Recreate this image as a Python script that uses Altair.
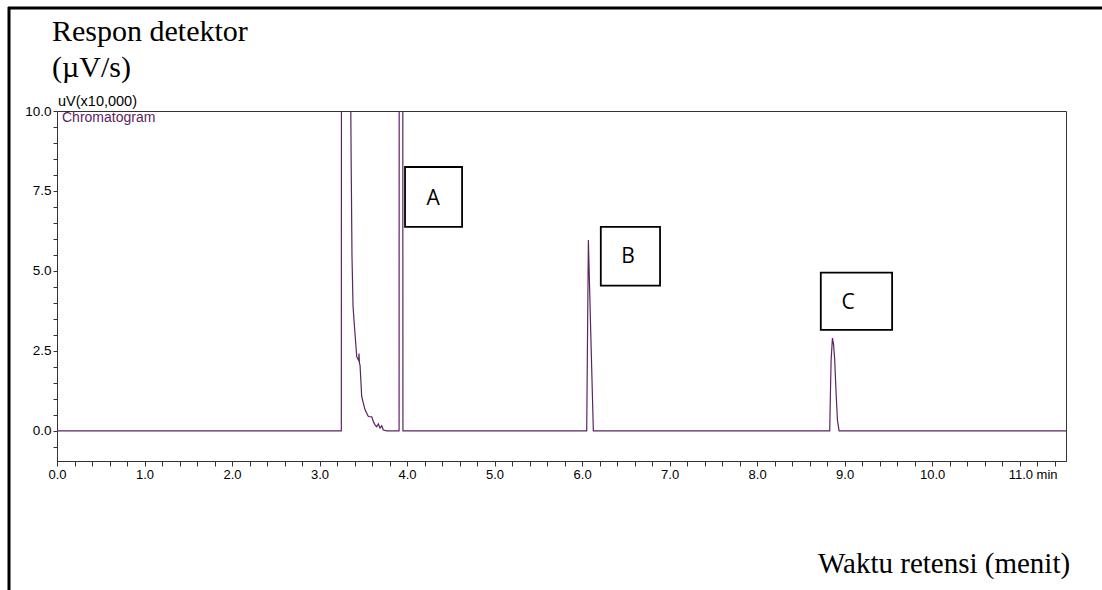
import altair as alt
import pandas as pd

# ---- chromatogram trace (time in min, response in uV x10,000) ----
trace_time = [0.000, 3.249, 3.254, 3.345, 3.357, 3.361, 3.371, 3.383, 3.402, 3.425,
              3.447, 3.451, 3.456, 3.463, 3.482, 3.520, 3.558, 3.597, 3.615, 3.634,
              3.654, 3.672, 3.691, 3.711, 3.729, 3.768,
              3.909, 3.913, 3.949, 3.953,
              6.053, 6.072, 6.100, 6.129,
              8.830, 8.838, 8.846, 8.861, 8.874, 8.887, 8.903, 8.918, 8.937,
              11.53]
trace_value = [0.00, 0.00, 40.0, 40.0, 10.2, 8.57, 5.45, 3.88, 3.16, 2.32,
               2.20, 2.42, 2.12, 2.05, 1.07, 0.66, 0.45, 0.44, 0.29, 0.19,
               0.13, 0.22, 0.09, 0.16, 0.03, 0.00,
               0.00, 30.0, 30.0, 0.00,
               0.00, 5.97, 3.00, 0.00,
               0.00, 1.18, 2.22, 2.90, 2.70, 2.22, 1.18, 0.34, 0.00,
               0.00]

# ---- axes ----
x_domain = [0.0, 11.53]
y_domain = [-0.94, 10.0]
x_tick_values = [round(i * 0.2, 1) for i in range(58)]
y_tick_values = [-0.5, 0.0, 0.5, 1.0, 1.5, 2.0, 2.5, 3.0, 3.5, 4.0, 4.5, 5.0,
                 5.5, 6.0, 6.5, 7.0, 7.5, 8.0, 8.5, 9.0, 9.5, 10.0]

# ---- peak annotation boxes ----
peak_labels = ["A", "B", "C"]
box_t1 = [3.977, 6.214, 8.728]
box_t2 = [4.629, 6.891, 9.543]
box_v1 = [8.25, 6.38, 4.95]
box_v2 = [6.375, 4.54, 3.16]
label_t = [4.297, 6.526, 9.040]
label_v = [7.25, 5.44, 4.00]

purple = "#5b2463"

trace = pd.DataFrame({"t": trace_time, "v": trace_value})
boxes = pd.DataFrame({"label": peak_labels, "t1": box_t1, "t2": box_t2,
                      "v1": box_v1, "v2": box_v2, "lt": label_t, "lv": label_v})

xs = alt.Scale(domain=x_domain, nice=False, zero=False)
ys = alt.Scale(domain=y_domain, nice=False, zero=False)

x_axis = alt.Axis(
    values=x_tick_values, tickCount=200,
    labelExpr="abs(datum.value - round(datum.value)) < 0.001 ? (abs(datum.value - 11) < 0.001 ? '11.0 min' : format(datum.value, '.1f')) : ''",
    labelOffset={"condition": {"test": "abs(datum.value - 11) < 0.001", "value": 13}, "value": 0},
    tickSize=5, labelFont="Liberation Sans", labelFontSize=13, labelColor="black",
    domainColor="#333333", tickColor="#333333", grid=False, title=None,
    labelOverlap=False, labelFlush=False, labelPadding=2,
)
y_axis = alt.Axis(
    values=y_tick_values, tickCount=200,
    labelExpr="datum.value % 2.5 == 0 ? format(datum.value, '.1f') : ''",
    tickSize=4, labelFont="Liberation Sans", labelFontSize=13.5, labelColor="black",
    domainColor="#333333", tickColor="#333333", grid=False, title=None,
    labelOverlap=False, labelFlush=False, labelPadding=2,
)

line = alt.Chart(trace).mark_line(color=purple, strokeWidth=1.2, clip=True).encode(
    x=alt.X("t:Q", scale=xs, axis=x_axis),
    y=alt.Y("v:Q", scale=ys, axis=y_axis),
)

rects = alt.Chart(boxes).mark_rect(filled=False, stroke="black", strokeWidth=1.8).encode(
    x=alt.X("t1:Q", scale=xs), x2="t2:Q",
    y=alt.Y("v1:Q", scale=ys), y2="v2:Q",
)

letters = alt.Chart(boxes).mark_text(font="Open Sans", fontSize=21, color="black",
                                     align="center", baseline="middle").encode(
    x=alt.X("lt:Q", scale=xs), y=alt.Y("lv:Q", scale=ys), text="label:N",
)

one = pd.DataFrame({"k": [0]})

def txt(s, x, y, font, size, color="black"):
    return alt.Chart(one).mark_text(text=s, font=font, fontSize=size, color=color,
                                    align="left", baseline="alphabetic").encode(
        x=alt.value(x), y=alt.value(y))

title1 = txt("Respon detektor", -5, -70, "Liberation Serif", 30)
title2 = txt("(\u00b5V/s)", -5, -34, "Liberation Serif", 30)
xtitle = txt("Waktu retensi (menit)", 761, 462, "Liberation Serif", 29)
unit = txt("uV(x10,000)", 1, -5, "Liberation Sans", 14.5)
legend = txt("Chromatogram", 5, 11, "Liberation Sans", 14, purple)

frame_top = alt.Chart(one).mark_rule(color="black", strokeWidth=3).encode(
    x=alt.value(-49), x2=alt.value(1045), y=alt.value(-103))
frame_left = alt.Chart(one).mark_rule(color="black", strokeWidth=3).encode(
    x=alt.value(-48), y=alt.value(-104), y2=alt.value(479))

chart = alt.layer(
    line, rects, letters, title1, title2, xtitle, unit, legend, frame_top, frame_left
).properties(
    width=1009, height=350,
    padding={"left": 57, "top": 111, "right": 36, "bottom": 129},
    autosize=alt.AutoSizeParams(type="none"),
    background="white",
).configure_view(stroke="#333333", strokeWidth=1)

chart.save("out.html", embed_options={"renderer": "svg", "actions": False})
